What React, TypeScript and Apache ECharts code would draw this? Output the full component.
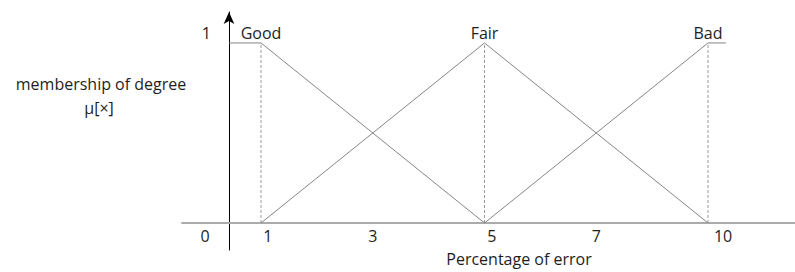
import React, { useEffect, useRef } from "react";
import * as echarts from "echarts";

// Axis slots: the drawing places "10" at slot 9 (equal spacing 1-3-5-7-10 visually)
const xTickLabels = ["0", "1", "3", "5", "7", "10"];
const xLabelSlots = [0, 1.12, 3, 5.13, 7, 9.27];
const yTickLabels = ["1"];

const setNames = ["Good", "Fair", "Bad"];
const goodPoints: [number, number][] = [[0.43, 1], [1, 1], [5, 0]];
const fairPoints: [number, number][] = [[1, 0], [5, 1], [9, 0]];
const badPoints: [number, number][] = [[5, 0], [9, 1], [9.32, 1]];
const peakSlots = [1, 5, 9];

const FONT = '"Open Sans", sans-serif';
const FS = 16;
const TEXT = "#1e1e1e";
const LINE = "#858585";

export default function App() {
  const ref = useRef<HTMLDivElement>(null);
  useEffect(() => {
    if (!ref.current) return;
    const chart = echarts.init(ref.current, undefined, { renderer: "svg" });
    const lineSeries = (name: string, pts: [number, number][], labelIdx: number) => ({
      type: "line",
      name,
      data: pts.map((p, i) =>
        i === labelIdx
          ? {
              value: p,
              label: {
                show: true,
                position: "top",
                distance: 2,
                formatter: name,
                color: TEXT,
                fontFamily: FONT,
                fontSize: FS,
              },
            }
          : { value: p }
      ),
      symbol: "circle",
      symbolSize: 0,
      showSymbol: true,
      itemStyle: { color: "rgba(0,0,0,0)" },
      silent: true,
      lineStyle: { color: LINE, width: 1 },
      z: 3,
    });
    const dashed = peakSlots.map((s) => ({
      type: "line",
      data: [
        [s, 0],
        [s, 1],
      ],
      symbol: "none",
      silent: true,
      lineStyle: { color: "#9a9a9a", width: 1, type: [3, 2] },
      z: 2,
    }));
    chart.setOption({
      animation: false,
      grid: { left: 182, right: 0, top: 12, bottom: 22, containLabel: false },
      xAxis: {
        type: "value",
        min: -0.414,
        max: 10.557,
        offset: -27,
        axisLine: { onZero: false, lineStyle: { color: "#ababab", width: 2 } },
        axisTick: { show: false },
        splitLine: { show: false },
        axisLabel: {
          customValues: xLabelSlots,
          formatter: (v: number) => {
            const i = xLabelSlots.findIndex((s) => Math.abs(s - v) < 1e-6);
            return i >= 0 ? xTickLabels[i] : "";
          },
          margin: 5,
          color: TEXT,
          fontFamily: FONT,
          fontSize: FS,
        },
      },
      yAxis: {
        type: "value",
        min: -0.15,
        max: 1.172,
        offset: -47,
        axisLine: {
          show: true,
          onZero: false,
          symbol: ["none", "arrow"],
          symbolSize: [8, 12],
          lineStyle: { color: "#000", width: 1 },
        },
        axisTick: { show: false },
        splitLine: { show: false },
        axisLabel: {
          customValues: [1],
          formatter: () => yTickLabels[0],
          margin: 18,
          verticalAlign: "bottom",
          lineHeight: 20,
          color: TEXT,
          fontFamily: FONT,
          fontSize: FS,
        },
      },
      graphic: [
        {
          type: "text",
          x: 101,
          y: 84,
          style: {
            text: "membership of degree",
            align: "center",
            verticalAlign: "middle",
            fill: TEXT,
            fontFamily: FONT,
            fontSize: FS,
          },
        },
        {
          type: "text",
          x: 99,
          y: 108,
          style: {
            text: "μ[×]",
            align: "center",
            verticalAlign: "middle",
            fill: TEXT,
            fontFamily: FONT,
            fontSize: FS,
          },
        },
        {
          type: "text",
          x: 519,
          y: 259,
          style: {
            text: "Percentage of error",
            align: "center",
            verticalAlign: "middle",
            fill: TEXT,
            fontFamily: FONT,
            fontSize: FS,
          },
        },
      ],
      series: [
        lineSeries(setNames[0], goodPoints, 1),
        lineSeries(setNames[1], fairPoints, 1),
        lineSeries(setNames[2], badPoints, 1),
        ...dashed,
      ],
    });
    return () => chart.dispose();
  }, []);
  return (
    <div
      ref={ref}
      style={{ position: "fixed", left: 0, top: 0, width: 795, height: 272, background: "#fff" }}
    />
  );
}
